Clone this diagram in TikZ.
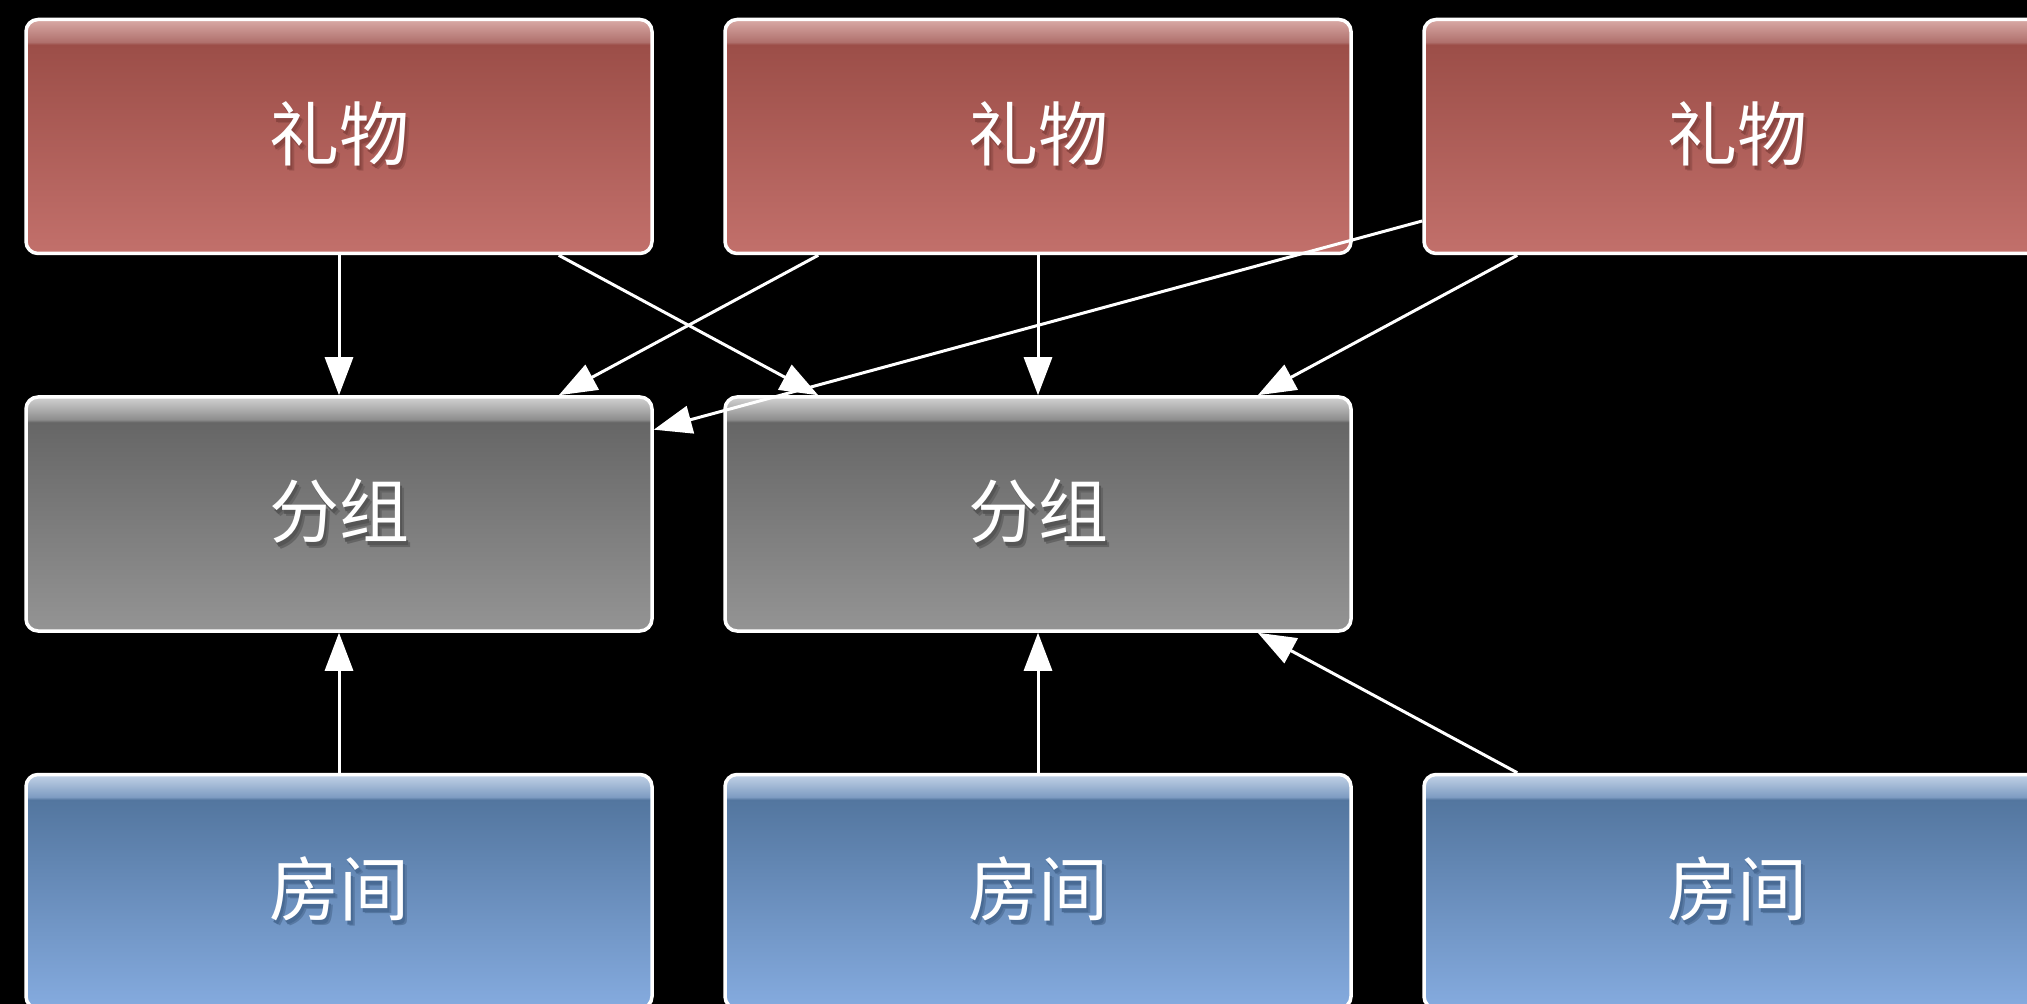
\documentclass[tikz,border=0pt]{standalone}
\usepackage{fontspec}
\newfontfamily\cjk{Noto Sans CJK SC}
\usetikzlibrary{arrows.meta}
\definecolor{redhi}{HTML}{D9AAA6}
\definecolor{redmid}{HTML}{B0716D}
\definecolor{redtop}{HTML}{9C4E48}
\definecolor{redbot}{HTML}{C2706B}
\definecolor{redsh}{HTML}{8A4540}
\definecolor{redsha}{HTML}{9A524D}
\definecolor{grayhi}{HTML}{D2D2D2}
\definecolor{graymid}{HTML}{8E8E8E}
\definecolor{graytop}{HTML}{666666}
\definecolor{graybot}{HTML}{949494}
\definecolor{graysh}{HTML}{555555}
\definecolor{graysha}{HTML}{646464}
\definecolor{bluehi}{HTML}{C3D3E7}
\definecolor{bluemid}{HTML}{7E9CC2}
\definecolor{bluetop}{HTML}{53769F}
\definecolor{bluebot}{HTML}{85ABDF}
\definecolor{bluesh}{HTML}{486A94}
\definecolor{bluesha}{HTML}{5778A2}
\pgfdeclareverticalshading{redshade}{100bp}{color(0bp)=(redbot); color(25bp)=(redbot); color(69.6bp)=(redtop); color(70.2bp)=(redmid); color(75bp)=(redhi); color(100bp)=(redhi)}
\pgfdeclareverticalshading{grayshade}{100bp}{color(0bp)=(graybot); color(25bp)=(graybot); color(69.6bp)=(graytop); color(70.2bp)=(graymid); color(75bp)=(grayhi); color(100bp)=(grayhi)}
\pgfdeclareverticalshading{blueshade}{100bp}{color(0bp)=(bluebot); color(25bp)=(bluebot); color(69.6bp)=(bluetop); color(70.2bp)=(bluemid); color(75bp)=(bluehi); color(100bp)=(bluehi)}
\newcommand\shtxt[3]{\makebox[0pt][l]{\hspace*{2.2pt}\raisebox{-2.6pt}{\textcolor{#2}{#3}}}\makebox[0pt][l]{\hspace*{1.4pt}\raisebox{-1.8pt}{\textcolor{#1}{#3}}}#3}
\tikzset{
  box/.style={draw=white, line width=1.75pt, rounded corners=6pt,
    minimum width=313pt, minimum height=117pt, inner sep=0pt,
    text=white, font=\cjk\fontsize{35}{42}\selectfont, shade},
  giftbox/.style={box, shading=redshade},
  groupbox/.style={box, shading=grayshade},
  roombox/.style={box, shading=blueshade},
  conn/.style={draw=white, line width=1.5pt, -{Triangle[length=19pt,width=14pt]}}
}
\begin{document}
\begin{tikzpicture}[x=0.5pt,y=-0.5pt]
\clip (0,0) rectangle (2027,1004);
\fill[black] (0,0) rectangle (2027,1004);
\node[giftbox] (g1) at (339,136.5) {\shtxt{redsh}{redsha}{礼物}};
\node[giftbox] (g2) at (1038,136.5) {\shtxt{redsh}{redsha}{礼物}};
\node[giftbox] (g3) at (1737,136.5) {\shtxt{redsh}{redsha}{礼物}};
\node[groupbox] (p1) at (339,514) {\shtxt{graysh}{graysha}{分组}};
\node[groupbox] (p2) at (1038,514) {\shtxt{graysh}{graysha}{分组}};
\node[roombox] (r1) at (339,891.5) {\shtxt{bluesh}{bluesha}{房间}};
\node[roombox] (r2) at (1038,891.5) {\shtxt{bluesh}{bluesha}{房间}};
\node[roombox] (r3) at (1737,891.5) {\shtxt{bluesh}{bluesha}{房间}};
\draw[conn] (g1) -- (p1);
\draw[conn] (g1) -- (p2);
\draw[conn] (g2) -- (p1);
\draw[conn] (g2) -- (p2);
\draw[conn] (g3) -- (p1);
\draw[conn] (g3) -- (p2);
\draw[conn] (r1) -- (p1);
\draw[conn] (r2) -- (p2);
\draw[conn] (r3) -- (p2);
\end{tikzpicture}
\end{document}
